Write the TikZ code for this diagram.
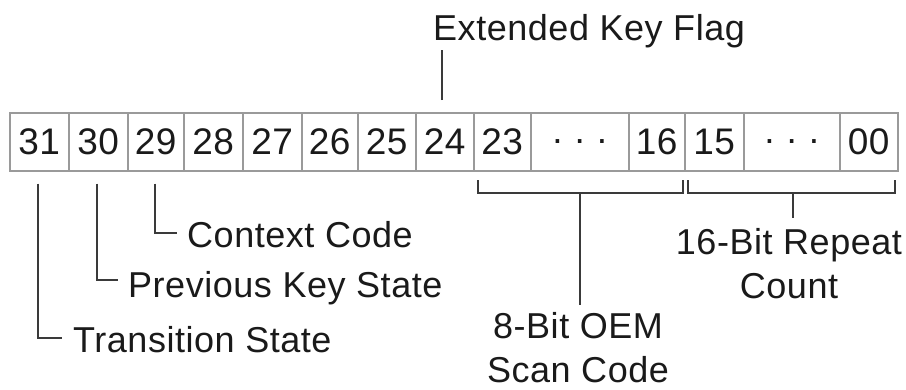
\documentclass[tikz,border=0pt]{standalone}
\usepackage{fontspec}
\setmainfont{Liberation Sans}[LetterSpace=1.5]
\definecolor{boxgray}{HTML}{9A9A9A}
\definecolor{linegray}{HTML}{3A3A3A}
\definecolor{txt}{HTML}{1A1A1A}
\begin{document}
\begin{tikzpicture}[x=1pt,y=-1pt,
  cell/.style={draw=boxgray, line width=1.5pt, anchor=north west, minimum height=58pt, inner sep=0pt, font=\fontsize{37}{43}\selectfont, text=txt},
  lbl/.style={inner sep=0pt, font=\fontsize{36}{44}\selectfont, text=txt},
  conn/.style={draw=linegray, line width=1.8pt}]
\useasboundingbox (0,0) rectangle (906,389);
% cells
\node[cell, minimum width=59pt] (c31) at (9,112) {31};
\node[cell, minimum width=59pt] (c30) at (68,112) {30};
\node[cell, minimum width=56pt] (c29) at (127,112) {29};
\node[cell, minimum width=59pt] (c28) at (183,112) {28};
\node[cell, minimum width=59pt] (c27) at (242,112) {27};
\node[cell, minimum width=56pt] (c26) at (301,112) {26};
\node[cell, minimum width=58pt] (c25) at (357,112) {25};
\node[cell, minimum width=58pt] (c24) at (415,112) {24};
\node[cell, minimum width=57pt] (c23) at (473,112) {23};
\node[cell, minimum width=98pt] (d1) at (530,112) {.\hspace{12pt}.\hspace{12pt}.};
\node[cell, minimum width=56pt] (c16) at (628,112) {16};
\node[cell, minimum width=59pt] (c15) at (684,112) {15};
\node[cell, minimum width=96pt] (d2) at (743,112) {.\hspace{12pt}.\hspace{12pt}.};
\node[cell, minimum width=58pt] (c00) at (839,112) {00};
% labels
\node[lbl, anchor=base west] (ekf) at (433,40) {Extended Key Flag};
\node[lbl, anchor=base west] (ctx) at (187,247) {Context Code};
\node[lbl, anchor=base west] (prev) at (128,297) {Previous Key State};
\node[lbl, anchor=base west] (trans) at (73,352) {Transition State};
\node[lbl, anchor=north, align=center] (rep) at (789,228) {16-Bit Repeat\\Count};
\node[lbl, anchor=north, align=center] (oem) at (578,312) {8-Bit OEM\\Scan Code};
% connectors
\draw[conn] ([yshift=12pt]c24.north -| 442,0) -- ([yshift=-2pt]ekf.south -| 442,0);
\draw[conn] ([yshift=-12pt]c31.south -| 38,0) |- ([xshift=-11pt]trans.west |- 0,338);
\draw[conn] ([yshift=-12pt]c30.south -| 97,0) |- ([xshift=-10pt]prev.west |- 0,280);
\draw[conn] ([yshift=-12pt]c29.south -| 155,0) |- ([xshift=-10pt]ctx.west |- 0,233);
% brackets
\coordinate (b1l) at (478,180);
\coordinate (b1r) at (683,180);
\coordinate (b2l) at (688,180);
\coordinate (b2r) at (895,180);
\coordinate (b1m) at (580,193);
\coordinate (b2m) at (793,193);
\draw[conn] (b1l) -- ++(0,13) -| (b1r);
\draw[conn] (b2l) -- ++(0,13) -| (b2r);
\draw[conn] (b1m) -- ([yshift=7pt]oem.north -| b1m);
\draw[conn] (b2m) -- ([yshift=10pt]rep.north -| b2m);
\end{tikzpicture}
\end{document}
